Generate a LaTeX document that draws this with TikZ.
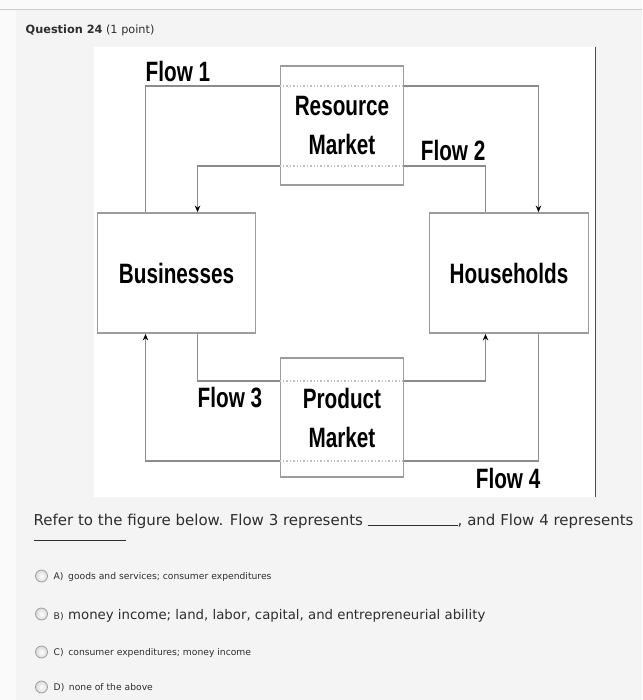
\documentclass[tikz,border=0pt]{standalone}
\usepackage{fontspec}
\setmainfont{DejaVu Sans}
\newfontfamily\flowfont[FakeStretch=0.74]{Liberation Sans}
\usetikzlibrary{arrows.meta,positioning}

\definecolor{pagebg}{HTML}{F4F4F4}
\definecolor{topbg}{HTML}{FAFAFA}
\definecolor{linegray}{HTML}{8C8C8C}
\definecolor{boxgray}{HTML}{9C9C9C}
\definecolor{txtgray}{HTML}{2E2E2E}

\begin{document}
\begin{tikzpicture}[
    x=1pt, y=-1pt,
    box/.style={rectangle, draw=boxgray, line width=1.8pt, fill=white, inner sep=0pt,
        align=center, font=\flowfont\bfseries\fontsize{28}{39}\selectfont},
    flow/.style={draw=linegray, line width=1.8pt},
    arrow/.style={flow, -{Stealth[length=6.5pt,width=5.5pt,black]}},
    inside/.style={draw=linegray!55, line width=1.4pt, dotted},
    lbl/.style={inner sep=0pt, font=\flowfont\bfseries\fontsize{28}{30}\selectfont},
    radio/.style={circle, draw=gray!75, line width=0.8pt, inner color=white,
        outer color=gray!30, minimum size=12pt, inner sep=0pt},
    opt/.style={inner sep=0pt, anchor=base west, text=txtgray}
]
    % page
    \fill[topbg] (0,0) rectangle (641,700);
    \fill[pagebg] (15,10) rectangle (641,700);
    \draw[gray!40, line width=1pt] (0,10) -- (641,10);
    \fill[white] (93,47) rectangle (595,497);
    \draw[black!70, line width=1pt] (595,47) -- (595,497);
    \useasboundingbox (0,0) rectangle (641,700);

    % sectors
    \node[box, minimum width=158pt, minimum height=120pt] (bus) at (176,273) {Businesses};
    \node[box, minimum width=159pt, minimum height=120pt] (hh) at (508.5,273) {Households};

    % flow corners
    \coordinate (f1l) at (145,86);
    \coordinate (f1r) at (538,86);
    \coordinate (f2r) at (485,166);
    \coordinate (f2l) at (197,166);
    \coordinate (f3l) at (197,381);
    \coordinate (f3r) at (485,381);
    \coordinate (f4r) at (538,461);
    \coordinate (f4l) at (145,461);

    \draw[arrow] (f1l |- bus.north) -- (f1l) -- (f1r) -- (f1r |- hh.north);
    \draw[arrow] (f2r |- hh.north) -- (f2r) -- (f2l) -- (f2l |- bus.north);
    \draw[arrow] (f3l |- bus.south) -- (f3l) -- (f3r) -- (f3r |- hh.south);
    \draw[arrow] (f4r |- hh.south) -- (f4r) -- (f4l) -- (f4l |- bus.south);

    % markets
    \node[box, minimum width=123pt, minimum height=119pt] (rm) at (341.5,125.5) {Resource\\Market};
    \node[box, minimum width=123pt, minimum height=119pt] (pm) at (341.5,417.5) {Product\\Market};
    \draw[inside] (rm.west |- f1l) -- (rm.east |- f1l);
    \draw[inside] (rm.west |- f2l) -- (rm.east |- f2l);
    \draw[inside] (pm.west |- f3l) -- (pm.east |- f3l);
    \draw[inside] (pm.west |- f4l) -- (pm.east |- f4l);

    \node[lbl, above right=4pt and 0pt of f1l] (flow1) {Flow 1};
    \node[lbl, above left=5pt and 0pt of f2r] (flow2) {Flow 2};
    \node[lbl, below right=6pt and 0pt of f3l] (flow3) {Flow 3};
    \node[lbl, below left=7pt and -2pt of f4r] (flow4) {Flow 4};

    % question
    \node[opt, font=\fontsize{11.3}{13}\selectfont] (head) at (25,34) {\textbf{Question 24} (1 point)};
    \node[opt, font=\fontsize{15}{18}\selectfont] (ask) at (33,525)
        {Refer to the figure below. Flow 3 represents \rule[-1pt]{90pt}{0.7pt}, and Flow 4 represents};
    \node[opt] (blank) at (33,541) {\rule{92pt}{0.7pt}};

    \node[radio] (ra) at (41,576) {};
    \node[radio] (rb) at (41,614) {};
    \node[radio] (rc) at (41,652) {};
    \node[radio] (rd) at (41,687) {};
    \node[opt, font=\fontsize{9.2}{11}\selectfont] (oa) at (53,579) {A)\enspace goods and services; consumer expenditures};
    \node[opt, font=\fontsize{9.2}{11}\selectfont] (ob) at (53,619)
        {B)\enspace{\fontsize{13.3}{16}\selectfont money income; land, labor, capital, and entrepreneurial ability}};
    \node[opt, font=\fontsize{9.2}{11}\selectfont] (oc) at (53,655) {C)\enspace consumer expenditures; money income};
    \node[opt, font=\fontsize{9.2}{11}\selectfont] (od) at (53,690) {D)\enspace none of the above};
\end{tikzpicture}
\end{document}
